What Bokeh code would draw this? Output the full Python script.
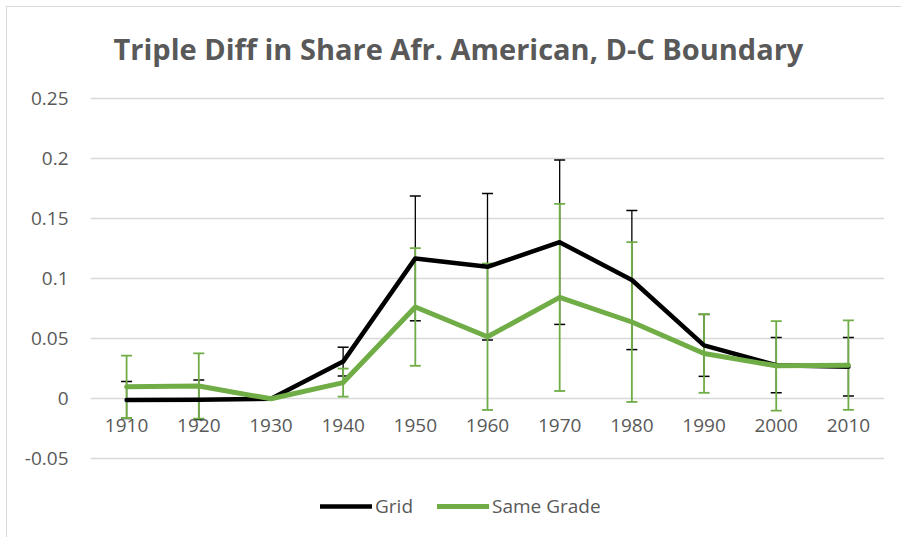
from bokeh.plotting import figure
from bokeh.models import ColumnDataSource, Whisker, TeeHead, FixedTicker, Legend, LegendItem, Label
from bokeh.core.properties import value
from bokeh.embed import file_html
from bokeh.resources import INLINE

years = ["1910", "1920", "1930", "1940", "1950", "1960", "1970", "1980", "1990", "2000", "2010"]
grid_vals = [-0.001, -0.0008, 0.0, 0.031, 0.117, 0.110, 0.1305, 0.099, 0.0445, 0.028, 0.0267]
grid_err = [0.0155, 0.0165, 0.0, 0.012, 0.052, 0.061, 0.0685, 0.058, 0.0258, 0.023, 0.0243]
same_vals = [0.010, 0.0106, 0.0, 0.0135, 0.0765, 0.0517, 0.0845, 0.064, 0.0378, 0.0275, 0.028]
same_err = [0.026, 0.0272, 0.0, 0.0117, 0.049, 0.061, 0.078, 0.0666, 0.0328, 0.0373, 0.0373]
y_ticks = [-0.05, 0.0, 0.05, 0.1, 0.15, 0.2, 0.25]
y_tick_labels = ["-0.05", "0", "0.05", "0.1", "0.15", "0.2", "0.25"]
title_text = "Triple Diff in Share Afr. American, D-C Boundary"
series_names = ["Grid", "Same Grade"]

FONT = "Open Sans"
TXT = "#595959"
BLACK = "#000000"
GREEN = "#70ad47"

W, H = 895, 531
TOP, LEFT, RIGHT = 91.3, 83, 18
PX_PER_UNIT = 1200.0
y_top = 0.25 + TOP / PX_PER_UNIT          # frame covers the whole canvas height
y_bottom = 0.25 - (H - TOP) / PX_PER_UNIT

p = figure(width=W, height=H, x_range=years, y_range=(y_bottom, y_top),
           output_backend="svg", toolbar_location=None,
           min_border_left=LEFT, min_border_right=RIGHT, min_border_top=0, min_border_bottom=0,
           background_fill_color="white", border_fill_color="white",
           styles={"margin-left": "6px", "margin-top": "6px",
                   "border-left": "1px solid #d9d9d9", "border-top": "1px solid #d9d9d9"})
p.outline_line_color = None

# title (placed in screen space, relative to the plot frame)
p.add_layout(Label(x=23, y=H - 41, x_units="screen", y_units="screen", text=title_text,
                   text_align="left", text_baseline="middle", text_font=FONT,
                   text_font_style="bold", text_font_size="29px", text_color=TXT))

# y axis
p.yaxis.ticker = FixedTicker(ticks=y_ticks)
p.yaxis.major_label_overrides = {t_: l for t_, l in zip(y_ticks, y_tick_labels)}
p.yaxis.axis_line_color = None
p.yaxis.major_tick_line_color = None
p.yaxis.minor_tick_line_color = None
p.yaxis.major_tick_out = 0
p.yaxis.major_label_standoff = 22
p.yaxis.major_label_text_font = FONT
p.yaxis.major_label_text_font_size = "19px"
p.yaxis.major_label_text_color = TXT

# x axis: category labels sit just under the zero line, as in Excel
p.xaxis.visible = False
p.xgrid.grid_line_color = None
p.ygrid.ticker = FixedTicker(ticks=y_ticks)
p.ygrid.grid_line_color = "#d9d9d9"
p.ygrid.grid_line_width = 1.3

lab_src = ColumnDataSource(dict(x=years, y=[0.0] * len(years), t=years))
p.text("x", "y", text="t", source=lab_src, text_align="center", text_baseline="middle",
       y_offset=27, text_font=value(FONT), text_font_size="19px", text_color=TXT)

src_g = ColumnDataSource(dict(x=years, y=grid_vals,
                              up=[v + e for v, e in zip(grid_vals, grid_err)],
                              lo=[v - e for v, e in zip(grid_vals, grid_err)]))
src_s = ColumnDataSource(dict(x=years, y=same_vals,
                              up=[v + e for v, e in zip(same_vals, same_err)],
                              lo=[v - e for v, e in zip(same_vals, same_err)]))

wg = Whisker(base="x", upper="up", lower="lo", source=src_g, line_color=BLACK, line_width=1.3,
             upper_head=TeeHead(size=11, line_color=BLACK, line_width=1.5),
             lower_head=TeeHead(size=11, line_color=BLACK, line_width=1.5), level="underlay")
ws = Whisker(base="x", upper="up", lower="lo", source=src_s, line_color=GREEN, line_width=1.8,
             upper_head=TeeHead(size=11, line_color=GREEN, line_width=1.8),
             lower_head=TeeHead(size=11, line_color=GREEN, line_width=1.8), level="underlay")
p.add_layout(wg)
p.add_layout(ws)

lg = p.line("x", "y", source=src_g, line_color=BLACK, line_width=4.5, line_join="round", line_cap="round")
ls = p.line("x", "y", source=src_s, line_color=GREEN, line_width=5, line_join="round", line_cap="round")

legend = Legend(items=[LegendItem(label=series_names[0], renderers=[lg]),
                       LegendItem(label=series_names[1], renderers=[ls])],
                location=(230, 19), orientation="horizontal",
                glyph_width=52, glyph_height=20, label_standoff=3, spacing=24,
                padding=0, margin=0, border_line_color=None, background_fill_alpha=0,
                label_text_font=FONT, label_text_font_size="19px", label_text_color=TXT)
p.add_layout(legend, "center")

open("out.html", "w").write(file_html(p, INLINE))
